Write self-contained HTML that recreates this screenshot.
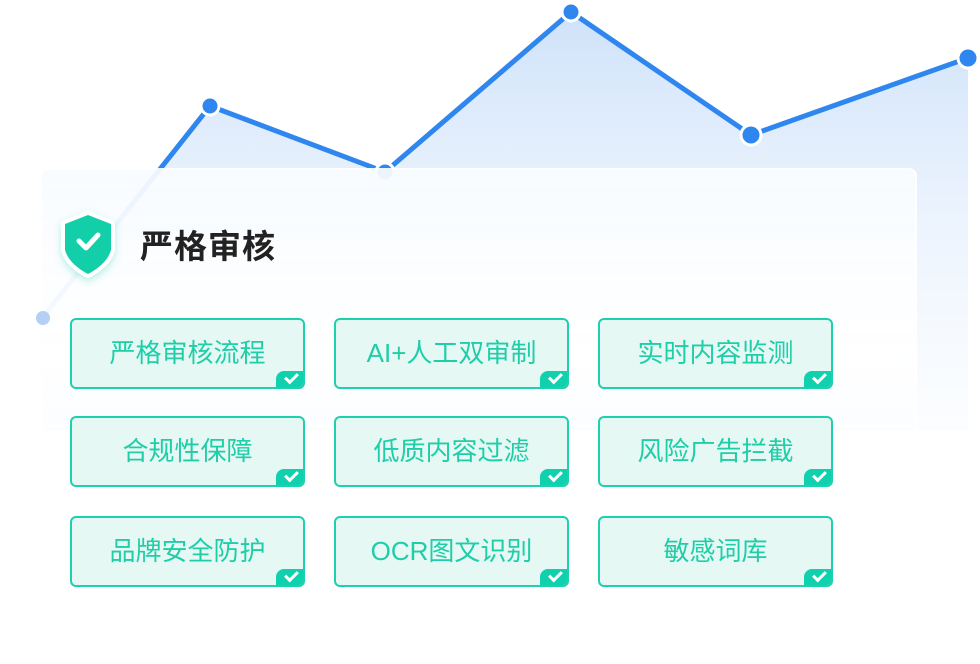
<!DOCTYPE html>
<html><head><meta charset="utf-8"><style>
body{margin:0;width:980px;height:664px;background:#fff;position:relative;overflow:hidden;font-family:"Liberation Sans","Noto Sans CJK SC",sans-serif}
svg.c{position:absolute;left:0;top:0}
.card{position:absolute;left:40px;top:168px;width:873px;height:300px;border-radius:8px;border:2px solid rgba(255,255,255,.9);border-bottom:none;background:linear-gradient(180deg,rgba(248,251,255,.94) 0%,rgba(255,255,255,.96) 60%,rgba(255,255,255,0.0) 100%)}
.title{position:absolute;left:140px;top:220px;font-size:33px;font-weight:bold;color:#222;letter-spacing:1px}
.b{position:absolute;width:231px;height:67px;border:2px solid #1dd1ae;border-radius:6px;background:#e5f8f4;color:#1fcea8;font-size:26px;text-align:center;line-height:67px;overflow:hidden;box-sizing:content-box}
.b i{position:absolute;right:0;bottom:0;width:27px;height:16px;background:#10d0ae;border-top-left-radius:8px}
.b i:after{content:"";position:absolute;left:9px;top:2px;width:10px;height:5px;border-left:3px solid #fff;border-bottom:3px solid #fff;transform:rotate(-45deg)}
</style></head><body>
<svg class="c" width="980" height="664">
<defs><linearGradient id="g" x1="0" y1="0" x2="0" y2="1"><stop offset="0" stop-color="#cfe2fa"/><stop offset="1" stop-color="#eef5fe" stop-opacity="0.2"/></linearGradient></defs>
<polygon points="42,318 210,106 385,172 571,12 751,135 968,58 968,430 42,430" fill="url(#g)"/>
<polyline points="42,318 210,106 385,172 571,12 751,135 968,58" fill="none" stroke="#2f86ee" stroke-width="5" stroke-linejoin="round"/>
<g fill="#2f86ee" stroke="#fff" stroke-width="3"><circle cx="210" cy="106" r="9"/><circle cx="385" cy="172" r="9"/><circle cx="571" cy="12" r="9"/><circle cx="751" cy="135" r="10"/><circle cx="968" cy="58" r="10"/></g>
</svg>
<div class="card"></div>
<svg class="c" width="980" height="664">
<circle cx="43" cy="318" r="7" fill="#b5d0f6"/>
<path d="M88 215 L111 224 L111 250 Q107 264 88 274 Q69 264 65 250 L65 224 Z" fill="#fff" stroke="#fff" stroke-width="8" stroke-linejoin="round" style="filter:drop-shadow(0 3px 4px rgba(16,208,174,.3))"/>
<path d="M88 215 L111 224 L111 250 Q107 264 88 274 Q69 264 65 250 L65 224 Z" fill="#12cfaa"/>
<path d="M79 241 L86 248 L98 235" fill="none" stroke="#fff" stroke-width="5" stroke-linecap="round" stroke-linejoin="round"/>
</svg>
<div class="title">严格审核</div>
<div class="b" style="left:70px;top:318px">严格审核流程<i></i></div>
<div class="b" style="left:334px;top:318px">AI+人工双审制<i></i></div>
<div class="b" style="left:598px;top:318px">实时内容监测<i></i></div>
<div class="b" style="left:70px;top:416px">合规性保障<i></i></div>
<div class="b" style="left:334px;top:416px">低质内容过滤<i></i></div>
<div class="b" style="left:598px;top:416px">风险广告拦截<i></i></div>
<div class="b" style="left:70px;top:516px">品牌安全防护<i></i></div>
<div class="b" style="left:334px;top:516px">OCR图文识别<i></i></div>
<div class="b" style="left:598px;top:516px">敏感词库<i></i></div>
</body></html>
